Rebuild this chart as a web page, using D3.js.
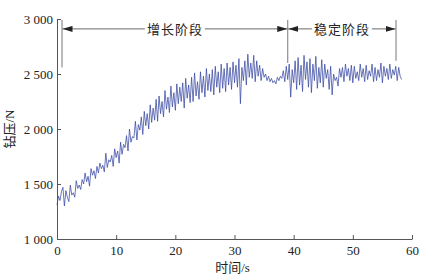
<!DOCTYPE html>
<html>
<head>
<meta charset="utf-8">
<script src="https://cdn.jsdelivr.net/npm/d3@7"></script>
<style>
  body { margin: 0; background: #fff; }
  text { font-family: "Liberation Serif", "Noto Sans CJK SC", serif; }
</style>
</head>
<body>
<div id="chart"></div>
<script>
// sample step of the force record (s)
const sampleStep = 0.25;

// drilling force readings (N), 4 per second
const force = [
  1310, 1390, 1350, 1430, 1470, 1300, 1440, 1380, 1340, 1490, 1400, 1420,
  1380, 1530, 1460, 1490, 1450, 1540, 1500, 1600, 1520, 1570, 1480, 1640,
  1580, 1620, 1550, 1660, 1600, 1690, 1640, 1670, 1610, 1780, 1650, 1720,
  1700, 1760, 1660, 1820, 1740, 1800, 1690, 1880, 1770, 1860, 1830, 1940,
  1800, 2000, 1880, 1930, 1920, 2070, 1900, 2040, 1990, 2110, 1950, 2160,
  2030, 2140, 2000, 2220, 2060, 2190, 2080, 2270, 2070, 2300, 2140, 2250,
  2110, 2350, 2180, 2290, 2150, 2390, 2200, 2330, 2170, 2410, 2230, 2380,
  2250, 2420, 2190, 2460, 2280, 2400, 2240, 2470, 2250, 2510, 2300, 2430,
  2270, 2520, 2330, 2480, 2290, 2550, 2350, 2500, 2340, 2540, 2310, 2570,
  2380, 2520, 2330, 2590, 2370, 2550, 2340, 2600, 2400, 2560, 2360, 2610,
  2420, 2580, 2380, 2640, 2230, 2560, 2440, 2620, 2400, 2680, 2470, 2600,
  2460, 2670, 2430, 2620, 2480, 2580, 2440, 2550, 2470, 2500, 2440, 2480,
  2430, 2460, 2420, 2440, 2410, 2470, 2440, 2480, 2460, 2530, 2430, 2570,
  2450, 2590, 2290, 2540, 2420, 2620, 2360, 2650, 2400, 2580, 2340, 2670,
  2450, 2610, 2380, 2640, 2330, 2590, 2440, 2660, 2370, 2560, 2420, 2630,
  2380, 2590, 2460, 2540, 2360, 2570, 2310, 2500, 2440, 2470, 2390, 2550,
  2470, 2560, 2430, 2590, 2480, 2550, 2440, 2580, 2420, 2570, 2460, 2520,
  2440, 2590, 2470, 2550, 2430, 2580, 2450, 2530, 2480, 2590, 2430, 2560,
  2440, 2540, 2470, 2600, 2420, 2570, 2480, 2550, 2450, 2590, 2460, 2540,
  2490, 2570, 2440, 2560, 2480, 2450
];

const xTicks = [0, 10, 20, 30, 40, 50, 60];
const yTicks = [1000, 1500, 2000, 2500, 3000];

// phase boundaries (s) and labels
const phaseBounds = [0.85, 39, 57.3];
const phaseLineBottom = [2560, 2600, 2620];
const phaseNames = ["增长阶段", "稳定阶段"];
const arrowLevel = 2910;

const width = 437, height = 280;
const margin = {top: 19, right: 25, bottom: 41, left: 57};
const w = width - margin.left - margin.right;
const h = height - margin.top - margin.bottom;

const svg = d3.select("#chart")
  .append("svg")
  .attr("width", width)
  .attr("height", height);

const defs = svg.append("defs");
defs.append("marker")
  .attr("id", "arr")
  .attr("viewBox", "0 0 10 6")
  .attr("refX", 10)
  .attr("refY", 3)
  .attr("markerWidth", 10)
  .attr("markerHeight", 6)
  .attr("markerUnits", "userSpaceOnUse")
  .attr("orient", "auto-start-reverse")
  .append("path")
  .attr("d", "M0,0 L10,3 L0,6 Z")
  .attr("fill", "#222");

const g = svg.append("g")
  .attr("transform", `translate(${margin.left},${margin.top})`);

const x = d3.scaleLinear().domain([0, 60]).range([0, w]);
const y = d3.scaleLinear().domain([1000, 3000]).range([h, 0]);

const fmt = v => d3.format(",")(v).replace(",", " ");

const xAxis = g.append("g")
  .attr("transform", `translate(0,${h})`)
  .call(d3.axisBottom(x).tickValues(xTicks).tickSizeInner(-4).tickSizeOuter(0).tickPadding(7));
const yAxis = g.append("g")
  .call(d3.axisLeft(y).tickValues(yTicks).tickFormat(fmt).tickSizeInner(-4).tickSizeOuter(0).tickPadding(4));

[xAxis, yAxis].forEach(a => {
  a.select(".domain").attr("stroke", "#555");
  a.selectAll(".tick line").attr("stroke", "#555");
  a.selectAll("text")
    .attr("fill", "#222")
    .style("font-size", "13px")
    .style("font-family", "'Liberation Serif', serif");
});

// force line
const line = d3.line()
  .x((d, i) => x(i * sampleStep))
  .y(d => y(d));

g.append("path")
  .datum(force)
  .attr("fill", "none")
  .attr("stroke", "#3848a2")
  .attr("stroke-width", 0.75)
  .attr("d", line);

// phase boundary lines
g.selectAll(".bound")
  .data(phaseBounds)
  .enter()
  .append("line")
  .attr("x1", d => x(d))
  .attr("x2", d => x(d))
  .attr("y1", y(3000) + 1)
  .attr("y2", (d, i) => y(phaseLineBottom[i]))
  .attr("stroke", "#777")
  .attr("stroke-width", 1);

// arrows with labels
phaseNames.forEach((name, i) => {
  const x0 = x(phaseBounds[i]);
  const x1 = x(phaseBounds[i + 1]);
  const xm = (x0 + x1) / 2;
  const half = 30;
  const ya = y(arrowLevel);
  g.append("line")
    .attr("x1", xm - half).attr("x2", x0 + 0.5)
    .attr("y1", ya).attr("y2", ya)
    .attr("stroke", "#444").attr("stroke-width", 0.8)
    .attr("marker-end", "url(#arr)");
  g.append("line")
    .attr("x1", xm + half).attr("x2", x1 - 0.5)
    .attr("y1", ya).attr("y2", ya)
    .attr("stroke", "#444").attr("stroke-width", 0.8)
    .attr("marker-end", "url(#arr)");
  g.append("text")
    .attr("x", xm)
    .attr("y", ya + 5)
    .attr("text-anchor", "middle")
    .attr("fill", "#222")
    .style("font-size", "13px")
    .style("letter-spacing", "1px")
    .text(name);
});

// axis titles
svg.append("text")
  .attr("x", margin.left + w / 2 - 2)
  .attr("y", 272)
  .attr("text-anchor", "middle")
  .attr("fill", "#222")
  .style("font-size", "13px")
  .text("时间/s");

svg.append("text")
  .attr("transform", `translate(14,${margin.top + h / 2}) rotate(-90)`)
  .attr("text-anchor", "middle")
  .attr("fill", "#222")
  .style("font-size", "13px")
  .text("钻压/N");
</script>
</body>
</html>
